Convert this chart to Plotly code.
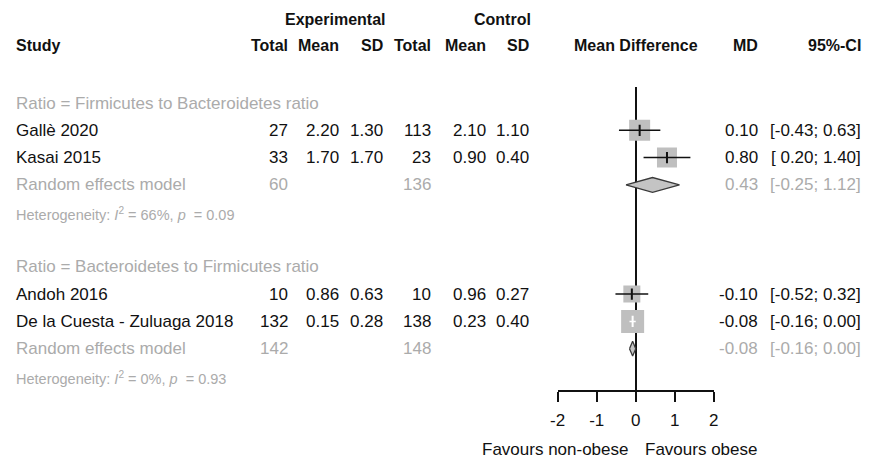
import plotly.graph_objects as go

# ---------------- data ----------------
group_labels = ["Ratio = Firmicutes to Bacteroidetes ratio",
                "Ratio = Bacteroidetes to Firmicutes ratio"]
studies = ["Gallè 2020", "Kasai 2015", "Andoh 2016", "De la Cuesta - Zuluaga 2018"]
study_group = [0, 0, 1, 1]
exp_n = [27, 33, 10, 132]
exp_mean = [2.20, 1.70, 0.86, 0.15]
exp_sd = [1.30, 1.70, 0.63, 0.28]
ctl_n = [113, 23, 10, 138]
ctl_mean = [2.10, 0.90, 0.96, 0.23]
ctl_sd = [1.10, 0.40, 0.27, 0.40]
md = [0.10, 0.80, -0.10, -0.08]
ci_lo = [-0.43, 0.20, -0.52, -0.16]
ci_hi = [0.63, 1.40, 0.32, 0.00]

re_md = [0.43, -0.08]
re_lo = [-0.25, -0.16]
re_hi = [1.12, 0.00]
re_exp_n = [60, 142]
re_ctl_n = [136, 148]
het_i2 = [66, 0]
het_p = [0.09, 0.93]

x_ticks = [-2, -1, 0, 1, 2]
label_left = "Favours non-obese"
label_right = "Favours obese"

# ---------------- layout / style ----------------
W, H = 872, 460
FONT = "Liberation Sans, Arial, sans-serif"
BLACK = "#111111"
GREY = "#ababab"
BOX = "#bfbfbf"
box_px = [21, 20, 17, 23]          # square side lengths (style)
diamond_half = 0.27                 # diamond half height in row units

# row layout: group label, studies, RE model, heterogeneity, blank
study_row = [2, 3, 8, 9]
group_row = [1, 7]
re_row = [4, 10]
het_row = [5, 11]

row0_px, row_step = 103.0, 27.3
top_px, bottom_px = 87.0, 390.0
y_top = 1 + (top_px - row0_px) / row_step
y_bot = 1 + (bottom_px - row0_px) / row_step

x_left_px, x_right_px = 558.0, 716.5
px_per_unit = (x_right_px - x_left_px) / 4.0

def px(xp):
    return xp / W

def py(yp):
    return 1 - yp / H

col_right = {
    "exp_n": 286, "exp_mean": 338, "exp_sd": 383,
    "ctl_n": 431, "ctl_mean": 487, "ctl_sd": 531,
    "md": 763, "ci": 868,
}
study_left = 6

fig = go.Figure()

# squares, CI lines and estimate ticks
for i in range(len(studies)):
    inside = (ci_hi[i] - ci_lo[i]) * px_per_unit < box_px[i]
    col = "white" if inside else BLACK
    fig.add_trace(go.Scatter(
        x=[md[i]], y=[study_row[i]], mode="markers",
        marker=dict(symbol="square", size=box_px[i], color=BOX,
                    line=dict(width=0)),
        hoverinfo="skip", showlegend=False))
    fig.add_trace(go.Scatter(
        x=[ci_lo[i], ci_hi[i]], y=[study_row[i], study_row[i]], mode="lines",
        line=dict(color=col, width=1.5), hoverinfo="skip", showlegend=False))
    fig.add_trace(go.Scatter(
        x=[md[i]], y=[study_row[i]], mode="markers",
        marker=dict(symbol="line-ns", size=8,
                    line=dict(color=col, width=2)),
        hoverinfo="skip", showlegend=False))

# diamonds
for g in range(2):
    r = re_row[g]
    fig.add_trace(go.Scatter(
        x=[re_lo[g], re_md[g], re_hi[g], re_md[g], re_lo[g]],
        y=[r, r - diamond_half, r, r + diamond_half, r],
        mode="lines", fill="toself", fillcolor="#c4c4c4",
        line=dict(color="#3a3a3a", width=1.3),
        hoverinfo="skip", showlegend=False))

ann = []

def text(x, y, s, color=BLACK, size=17, anchor="right", bold=False,
         yref="y", xref="paper", yshift=0, xshift=0):
    if bold:
        s = "<b>" + s + "</b>"
    ann.append(dict(x=x, y=y, xref=xref, yref=yref, text=s, showarrow=False,
                    xanchor=anchor, yanchor="middle", align=anchor if anchor != "center" else "center",
                    font=dict(family=FONT, size=size, color=color),
                    yshift=yshift, xshift=xshift))

# headers
hy1, hy2 = py(20), py(46)
text(px(332), hy1, "Experimental", anchor="center", bold=True, size=16, yref="paper")
text(px(502), hy1, "Control", anchor="center", bold=True, size=16, yref="paper")
text(px(study_left), hy2, "Study", anchor="left", bold=True, size=16, yref="paper")
for key, lab in [("exp_n", "Total"), ("exp_mean", "Mean"), ("exp_sd", "SD"),
                 ("ctl_n", "Total"), ("ctl_mean", "Mean"), ("ctl_sd", "SD"),
                 ("md", "MD"), ("ci", "95%-CI")]:
    text(px(col_right[key]), hy2, lab, bold=True, size=16, yref="paper")
text(px((x_left_px + x_right_px) / 2), hy2, "Mean Difference", anchor="center",
     bold=True, size=16, yref="paper")

def ci_str(lo, hi):
    return "[{:5.2f}; {:.2f}]".format(lo, hi).replace("[ ", "[&nbsp;")

# group labels
for g in range(2):
    text(px(study_left), group_row[g], group_labels[g], color=GREY, anchor="left")

# studies
for i in range(len(studies)):
    r = study_row[i]
    text(px(study_left), r, studies[i], anchor="left")
    text(px(col_right["exp_n"]), r, str(exp_n[i]))
    text(px(col_right["exp_mean"]), r, f"{exp_mean[i]:.2f}")
    text(px(col_right["exp_sd"]), r, f"{exp_sd[i]:.2f}")
    text(px(col_right["ctl_n"]), r, str(ctl_n[i]))
    text(px(col_right["ctl_mean"]), r, f"{ctl_mean[i]:.2f}")
    text(px(col_right["ctl_sd"]), r, f"{ctl_sd[i]:.2f}")
    text(px(col_right["md"]), r, f"{md[i]:.2f}")
    text(px(col_right["ci"]), r, ci_str(ci_lo[i], ci_hi[i]))

# random effects + heterogeneity
for g in range(2):
    r = re_row[g]
    text(px(study_left), r, "Random effects model", color=GREY, anchor="left")
    text(px(col_right["exp_n"]), r, str(re_exp_n[g]), color=GREY)
    text(px(col_right["ctl_n"]), r, str(re_ctl_n[g]), color=GREY)
    text(px(col_right["md"]), r, f"{re_md[g]:.2f}", color=GREY)
    text(px(col_right["ci"]), r, ci_str(re_lo[g], re_hi[g]), color=GREY)
    het = (f"Heterogeneity: <i>I</i><sup>2</sup> = {het_i2[g]}%, "
           f"<i>p</i>&nbsp; = {het_p[g]:.2f}")
    text(px(study_left), het_row[g], het, color=GREY, size=14.5, anchor="left",
         yshift=-2)

# favours labels
text(0, py(449), label_left, xref="x", yref="paper", anchor="right", xshift=-6)
text(0, py(449), label_right, xref="x", yref="paper", anchor="left", xshift=7)

fig.update_layout(
    width=W, height=H, margin=dict(l=0, r=0, t=0, b=0),
    paper_bgcolor="white", plot_bgcolor="white",
    annotations=ann, showlegend=False,
    xaxis=dict(domain=[px(x_left_px), px(x_right_px)], range=[-2, 2],
               tickvals=x_ticks, ticktext=[str(v) for v in x_ticks],
               showgrid=False, zeroline=True, zerolinecolor=BLACK,
               zerolinewidth=1.5, showline=True, linecolor=BLACK, linewidth=1.5,
               ticks="outside", ticklen=10, tickwidth=1.5, tickcolor=BLACK,
               tickfont=dict(family=FONT, size=17, color=BLACK),
               ticklabelstandoff=4, fixedrange=True),
    yaxis=dict(domain=[py(bottom_px), py(top_px)], range=[y_bot, y_top],
               autorange=False, showgrid=False, zeroline=False,
               showticklabels=False, showline=False, ticks="", fixedrange=True),
)

fig.write_html("out.html")
